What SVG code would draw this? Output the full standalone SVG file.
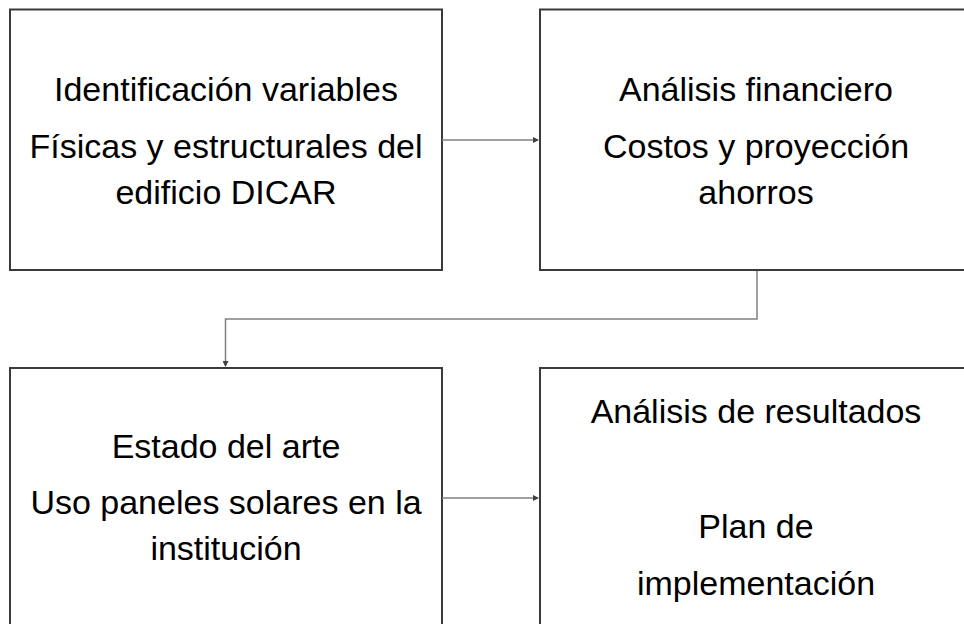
<svg xmlns="http://www.w3.org/2000/svg" width="964" height="624" viewBox="0 0 964 624">
<style>
.box{fill:#ffffff;stroke:#3a3a3a;stroke-width:2}
.t{font-family:"Liberation Sans",Arial,sans-serif;font-size:34px;fill:#000000;text-anchor:middle}
.c{fill:none;stroke:#808080;stroke-width:1.5}
</style>
<defs>
<marker id="ah" viewBox="0 0 6 6" refX="5" refY="3" markerWidth="4" markerHeight="4" orient="auto" markerUnits="strokeWidth">
<path d="M0,0 L6,3 L0,6 z" fill="#404040"/>
</marker>
</defs>
<rect width="964" height="624" fill="#ffffff"/>
<g id="n1">
<rect class="box" x="10" y="9.5" width="432" height="260.5"/>
<text class="t" x="226" y="101">Identificación variables</text>
<text class="t" x="226" y="158">Físicas y estructurales del</text>
<text class="t" x="226" y="204">edificio DICAR</text>
</g>
<g id="n2">
<rect class="box" x="540" y="9.5" width="432" height="260.5"/>
<text class="t" x="756" y="101">Análisis financiero</text>
<text class="t" x="756" y="158">Costos y proyección</text>
<text class="t" x="756" y="204">ahorros</text>
</g>
<g id="n3">
<rect class="box" x="10" y="368" width="432" height="268"/>
<text class="t" x="226" y="458">Estado del arte</text>
<text class="t" x="226" y="514">Uso paneles solares en la</text>
<text class="t" x="226" y="560">institución</text>
</g>
<g id="n4">
<rect class="box" x="540" y="368" width="432" height="268"/>
<text class="t" x="756" y="423">Análisis de resultados</text>
<text class="t" x="756" y="538">Plan de</text>
<text class="t" x="756" y="595">implementación</text>
</g>
<g id="connectors">
<path class="c" d="M442,140 L538,140" marker-end="url(#ah)"/>
<path class="c" d="M757,271 L757,319 L225.5,319 L225.5,366" marker-end="url(#ah)"/>
<path class="c" d="M442,498 L538,498" marker-end="url(#ah)"/>
</g>
</svg>
